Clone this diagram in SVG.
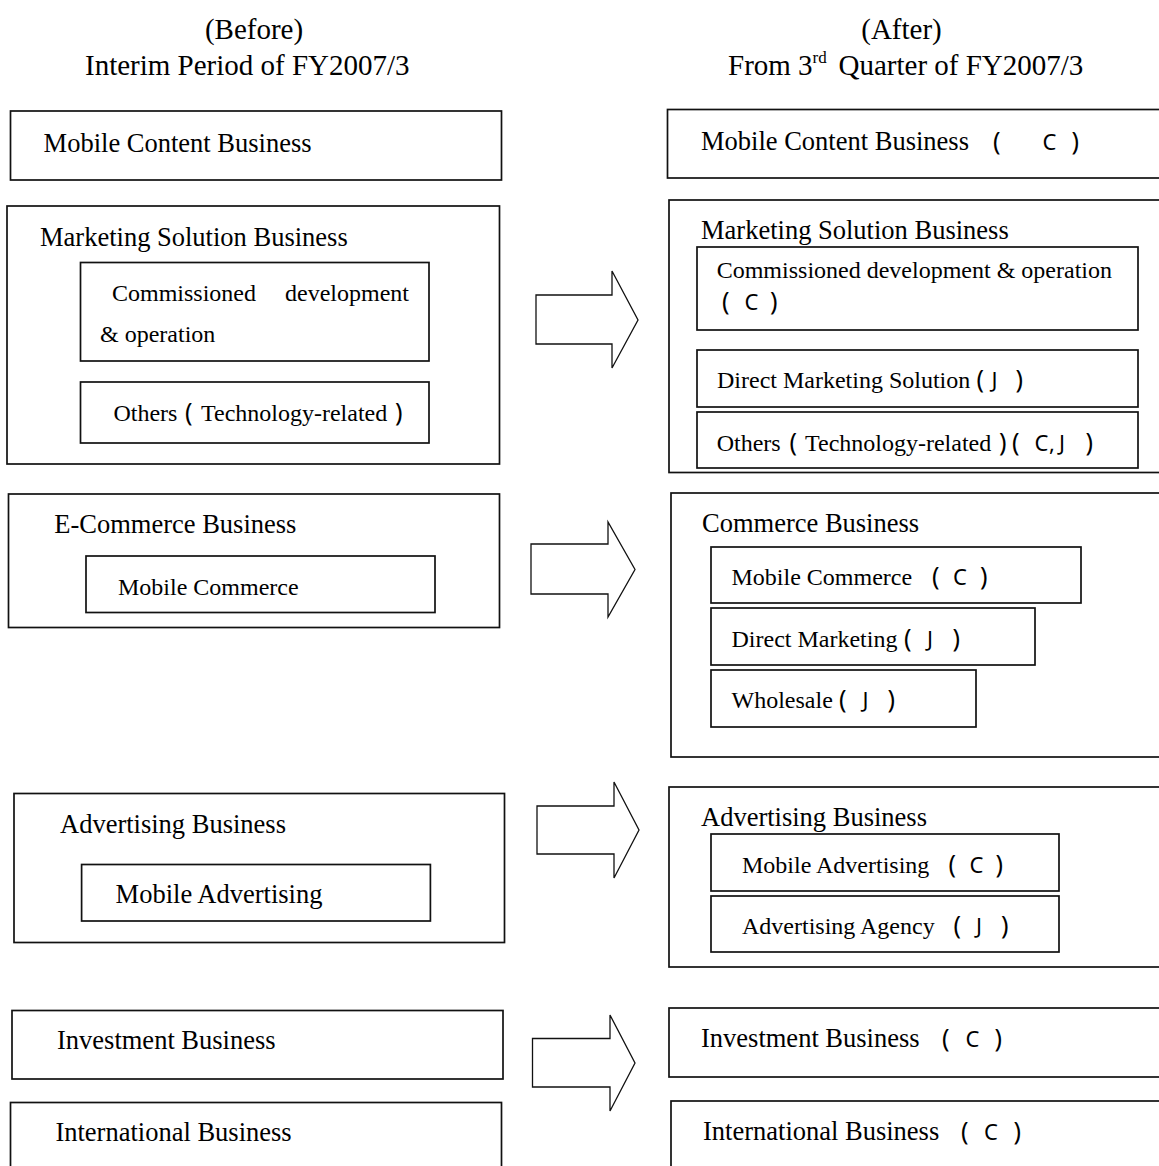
<svg xmlns="http://www.w3.org/2000/svg" width="1159" height="1166" viewBox="0 0 1159 1166">
<style>
text{font-family:"Liberation Serif","Times New Roman",serif;fill:#000}
.h{font-size:29px}
.m{font-size:26.5px}
.s{font-size:24px}
.g{font-family:"Noto Sans","DejaVu Sans",sans-serif;font-size:22px}
.p{font-family:"Noto Sans","DejaVu Sans",sans-serif;font-size:25px}
.box{fill:#fff;stroke:#111;stroke-width:1.7}
.arrow{fill:#fff;stroke:#111;stroke-width:1.3;stroke-linejoin:miter}
</style>
<rect width="1159" height="1166" fill="#fff"/>

<g id="header-before">
<text class="h" x="254" y="39" text-anchor="middle">(Before)</text>
<text class="h" x="85" y="75">Interim Period of FY2007/3</text>
</g>
<g id="header-after">
<text class="h" x="901.5" y="39" text-anchor="middle">(After)</text>
<text class="h" x="728" y="75">From 3<tspan font-size="17" dy="-12">rd</tspan> <tspan x="838.5" dy="12">Quarter of FY2007/3</tspan></text>
</g>

<!-- BEFORE column -->
<g id="before-mobile-content">
<rect class="box" x="10.5" y="111" width="491" height="69"/>
<text class="m" x="43.6" y="151.5">Mobile Content Business</text>
</g>
<g id="before-marketing">
<rect class="box" x="7" y="206" width="492.5" height="258"/>
<text class="m" x="40" y="246">Marketing Solution Business</text>
<g id="before-commissioned">
<rect class="box" x="80.5" y="262.5" width="348.5" height="98.5"/>
<text class="s" x="112" y="301">Commissioned <tspan x="285">development</tspan></text>
<text class="s" x="100" y="341.5">&amp; operation</text>
</g>
<g id="before-others">
<rect class="box" x="80.5" y="382" width="348.5" height="61"/>
<text class="s" x="113.4" y="420.5">Others <tspan class="p" x="185">(</tspan> <tspan x="201">Technology-related</tspan> <tspan class="p" x="395">)</tspan></text>
</g>
</g>
<g id="before-ecommerce">
<rect class="box" x="8.5" y="494" width="491" height="133.5"/>
<text class="m" x="54.3" y="533">E-Commerce Business</text>
<g id="before-mobile-commerce">
<rect class="box" x="86" y="556" width="349" height="56.5"/>
<text class="s" x="118" y="595">Mobile Commerce</text>
</g>
</g>
<g id="before-advertising">
<rect class="box" x="14" y="793.5" width="490.5" height="149"/>
<text class="m" x="60" y="832.7">Advertising Business</text>
<g id="before-mobile-advertising">
<rect class="box" x="81.6" y="864.5" width="348.8" height="56.5"/>
<text class="m" x="115.6" y="903">Mobile Advertising</text>
</g>
</g>
<g id="before-investment">
<rect class="box" x="12" y="1010.5" width="491" height="68.5"/>
<text class="m" x="57" y="1049">Investment Business</text>
</g>
<g id="before-international">
<rect class="box" x="10.5" y="1102.5" width="491" height="80"/>
<text class="m" x="55.4" y="1141">International Business</text>
</g>

<!-- AFTER column -->
<g id="after-mobile-content">
<rect class="box" x="667.5" y="109.5" width="510" height="68.5"/>
<text class="m" x="701" y="150">Mobile Content Business <tspan class="p" x="993">(</tspan> <tspan class="g" x="1042.5">C</tspan> <tspan class="p" x="1071.5">)</tspan></text>
</g>
<g id="after-marketing">
<rect class="box" x="669" y="200" width="510" height="272.5"/>
<text class="m" x="701" y="239">Marketing Solution Business</text>
<g id="after-commissioned">
<rect class="box" x="697" y="247" width="441" height="83"/>
<text class="s" x="716.7" y="278.3">Commissioned development &amp; operation</text>
<text class="p" x="722" y="310">( <tspan class="g" x="744.5">C</tspan> <tspan x="770">)</tspan></text>
</g>
<g id="after-direct-marketing-solution">
<rect class="box" x="697" y="350" width="441" height="57"/>
<text class="s" x="717" y="388">Direct Marketing Solution <tspan class="p" x="976.5">(</tspan> <tspan class="g" x="991.5">J</tspan> <tspan class="p" x="1015.5">)</tspan></text>
</g>
<g id="after-others">
<rect class="box" x="697" y="412" width="441" height="56"/>
<text class="s" x="716.7" y="450.7">Others <tspan class="p" x="789.5">(</tspan> <tspan x="805">Technology-related</tspan> <tspan class="p" x="999">)</tspan><tspan class="p" x="1012">(</tspan> <tspan class="g" x="1034.5">C</tspan><tspan class="g" x="1049">,</tspan><tspan class="g" x="1059">J</tspan> <tspan class="p" x="1085.5">)</tspan></text>
</g>
</g>
<g id="after-commerce">
<rect class="box" x="671" y="493" width="510" height="264"/>
<text class="m" x="702" y="532">Commerce Business</text>
<g id="after-mobile-commerce">
<rect class="box" x="711" y="547" width="370" height="56"/>
<text class="s" x="731.5" y="585">Mobile Commerce <tspan class="p" x="932">(</tspan> <tspan class="g" x="953">C</tspan> <tspan class="p" x="980">)</tspan></text>
</g>
<g id="after-direct-marketing">
<rect class="box" x="711" y="608" width="324" height="57"/>
<text class="s" x="731.5" y="647">Direct Marketing <tspan class="p" x="904">(</tspan> <tspan class="g" x="927">J</tspan> <tspan class="p" x="952.5">)</tspan></text>
</g>
<g id="after-wholesale">
<rect class="box" x="711" y="670" width="265" height="57"/>
<text class="s" x="731.5" y="708">Wholesale <tspan class="p" x="839">(</tspan> <tspan class="g" x="862.5">J</tspan> <tspan class="p" x="887.5">)</tspan></text>
</g>
</g>
<g id="after-advertising">
<rect class="box" x="669" y="787" width="510" height="180"/>
<text class="m" x="701" y="826">Advertising Business</text>
<g id="after-mobile-advertising">
<rect class="box" x="711" y="834" width="348" height="57"/>
<text class="s" x="742" y="873">Mobile Advertising <tspan class="p" x="948.5">(</tspan> <tspan class="g" x="969.5">C</tspan> <tspan class="p" x="995.5">)</tspan></text>
</g>
<g id="after-advertising-agency">
<rect class="box" x="711" y="896" width="348" height="56"/>
<text class="s" x="742" y="934">Advertising Agency <tspan class="p" x="953.5">(</tspan> <tspan class="g" x="976">J</tspan> <tspan class="p" x="1001">)</tspan></text>
</g>
</g>
<g id="after-investment">
<rect class="box" x="669" y="1008" width="510" height="69"/>
<text class="m" x="701" y="1047">Investment Business <tspan class="p" x="942">(</tspan> <tspan class="g" x="965.5">C</tspan> <tspan class="p" x="994.5">)</tspan></text>
</g>
<g id="after-international">
<rect class="box" x="671" y="1101" width="510" height="80"/>
<text class="m" x="703" y="1140">International Business <tspan class="p" x="961">(</tspan> <tspan class="g" x="984">C</tspan> <tspan class="p" x="1013.5">)</tspan></text>
</g>

<!-- connectors -->
<g id="connectors">
<polygon class="arrow" points="536,295 612,295 612,271 638,320 612,368 612,344 536,344"/>
<polygon class="arrow" points="531,544 608,544 608,522 635,569.5 608,617 608,594 531,594"/>
<polygon class="arrow" points="537,806 614,806 614,782 639,830 614,878 614,854 537,854"/>
<polygon class="arrow" points="532.5,1038.5 610,1038.5 610,1015 635,1063 610,1111 610,1087 532.5,1087"/>
</g>
</svg>
